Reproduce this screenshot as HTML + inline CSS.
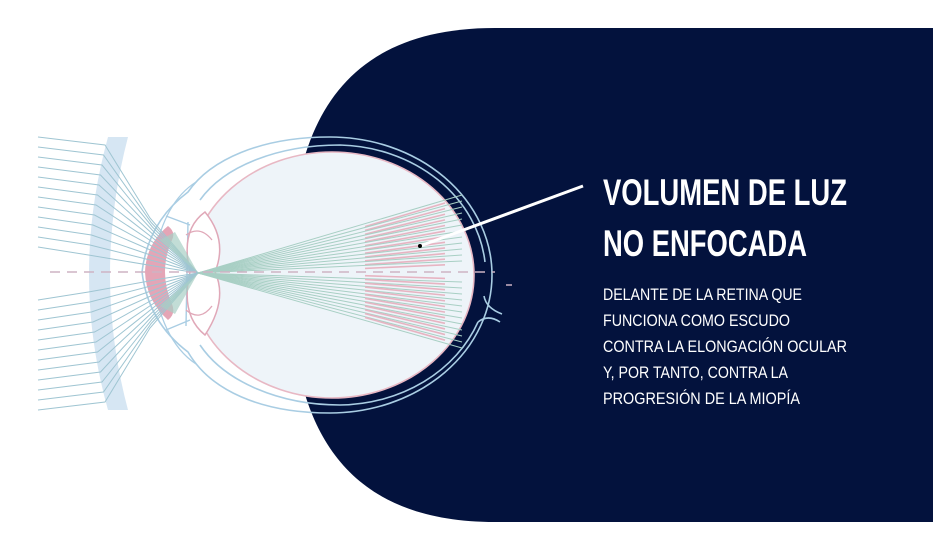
<!DOCTYPE html>
<html><head><meta charset="utf-8"><style>
html,body{margin:0;padding:0;background:#fff;width:933px;height:547px;overflow:hidden}
svg{display:block}
text{font-family:"Liberation Sans Narrow","Liberation Sans",sans-serif;fill:#fff}
</style></head><body>
<svg id="s" width="933" height="547" viewBox="0 0 933 547" xmlns="http://www.w3.org/2000/svg">
<path d="M495 28 H933 V522 H495 C330 522 290 410 290 275 C290 140 330 28 495 28 Z" fill="#03123d"/>
<path d="M108 137 L128 137 Q92 275 128 410 L108 410 Q70 275 108 137 Z" fill="#d6e6f3"/>
<path d="M330 137 C260 137 210 160 188 192 Q148 222 142 272 Q148 322 188 352 C210 390 260 413 330 413 A162 138 0 0 0 330 137 Z" fill="none" stroke="#a9cde3" stroke-width="1.6"/>
<path d="M200 200 C225 165 280 145 340 145 A150 130 0 0 1 485 262" fill="none" stroke="#a9cde3" stroke-width="1.6"/>
<path d="M200 345 C225 382 280 405 340 405 A150 130 0 0 0 478 322" fill="none" stroke="#a9cde3" stroke-width="1.6"/>
<path d="M484 296 Q486 308 502 314 M478 322 Q488 314 500 322" fill="none" stroke="#a9cde3" stroke-width="1.6"/>
<path d="M196 182 Q160 205 152 272 Q160 340 196 364" fill="none" stroke="#a9cde3" stroke-width="1.2"/>
<ellipse cx="332" cy="275" rx="142" ry="123" fill="#eef4f9" stroke="#e8b8c4" stroke-width="1.6"/>
<path d="M166 216 L190 225 M166 330 L190 320 M188 222 L186 326" fill="none" stroke="#a9cde3" stroke-width="1.4"/>
<path d="M205 212 Q180 230 190 272 Q180 315 205 335 Q228 300 215 272 Q228 240 205 212 Z" fill="#fff" stroke="#e0a8b8" stroke-width="1.5"/>
<path d="M186 235 Q200 225 212 240 M186 310 Q200 322 212 306" fill="none" stroke="#e0a8b8" stroke-width="1.3"/>
<path d="M168 226 Q176 232 172 240 Q158 272 172 304 Q176 314 168 320 Q146 300 145 272 Q146 244 168 226 Z" fill="#e4a5b6"/>
<g id="rays"></g>
<line x1="50" y1="272" x2="495" y2="272" stroke="#cdb3c4" stroke-width="1.6" stroke-dasharray="10 7"/>
<line x1="506" y1="285" x2="512" y2="285" stroke="#cdb3c4" stroke-width="1.5"/>
<line x1="420" y1="246" x2="583" y2="186" stroke="#fff" stroke-width="3"/>
<circle cx="420" cy="246" r="2" fill="#000"/>
<text x="603" y="205" font-size="37" font-weight="bold" textLength="244" lengthAdjust="spacingAndGlyphs">VOLUMEN DE LUZ</text>
<text x="603" y="256" font-size="37" font-weight="bold" textLength="204" lengthAdjust="spacingAndGlyphs">NO ENFOCADA</text>
<g font-size="17">
<text x="603" y="300" textLength="199" lengthAdjust="spacingAndGlyphs">DELANTE DE LA RETINA QUE</text>
<text x="603" y="326" textLength="187" lengthAdjust="spacingAndGlyphs">FUNCIONA COMO ESCUDO</text>
<text x="603" y="352" textLength="244" lengthAdjust="spacingAndGlyphs">CONTRA LA ELONGACIÓN OCULAR</text>
<text x="603" y="378" textLength="185" lengthAdjust="spacingAndGlyphs">Y, POR TANTO, CONTRA LA</text>
<text x="603" y="404" textLength="197" lengthAdjust="spacingAndGlyphs">PROGRESIÓN DE LA MIOPÍA</text>
</g>
</svg>
<script>
var g=document.getElementById('rays'),h='';
var fx=198,fy=273;
for(var i=0;i<12;i++){
 var y0=137+i*10, y1=y0+8;
 var lx=105-i*1.5;
 var cy=218+i*4.5, cx=150+i*1.2;
 h+='<polyline points="38,'+y0+' '+lx+','+y1+' '+cx+','+cy+' '+fx+','+fy+'" fill="none" stroke="#9fc5d2" stroke-width="1"/>';
 var b0=410-i*10, b1=b0-8, bcy=328-i*4.5;
 h+='<polyline points="38,'+b0+' '+lx+','+b1+' '+cx+','+bcy+' '+fx+','+fy+'" fill="none" stroke="#9fc5d2" stroke-width="1"/>';
 var ty=195+i*6, by=282+i*6;
 var ex=462;
 h+='<line x1="'+fx+'" y1="'+fy+'" x2="'+ex+'" y2="'+ty+'" stroke="#a8cfc4" stroke-width="1"/>';
 h+='<line x1="'+fx+'" y1="'+fy+'" x2="'+ex+'" y2="'+by+'" stroke="#a8cfc4" stroke-width="1"/>';
 var t1=(365-fx)/(ex-fx), t2=(445-fx)/(ex-fx);
 h+='<line x1="365" y1="'+(fy+(ty-fy)*t1+3)+'" x2="445" y2="'+(fy+(ty-fy)*t2+3)+'" stroke="#e7b4c2" stroke-width="1.6"/>';
 h+='<line x1="365" y1="'+(fy+(by-fy)*t1-3)+'" x2="445" y2="'+(fy+(by-fy)*t2-3)+'" stroke="#e7b4c2" stroke-width="1.6"/>';
}
h+='<path d="M160 240 L198 273 L175 232 Z M160 306 L198 273 L175 314 Z" fill="#a8cfc4" opacity="0.7"/>';
g.innerHTML=h;
</script>
</body></html>
